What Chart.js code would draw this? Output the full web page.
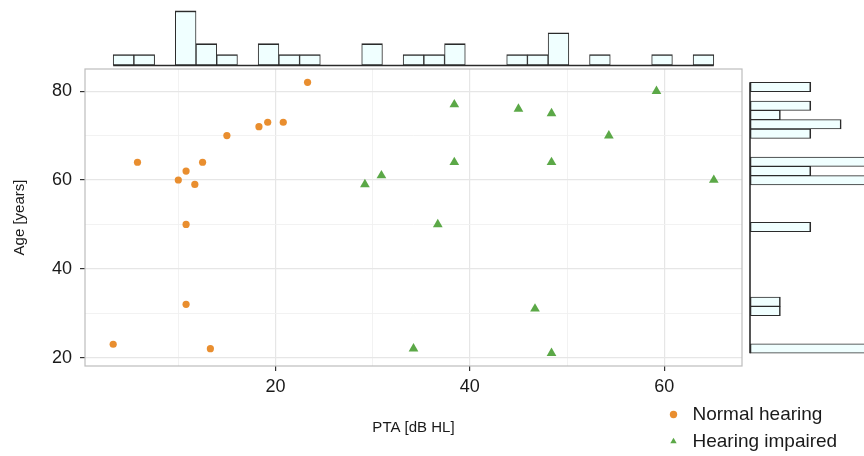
<!DOCTYPE html>
<html>
<head>
<meta charset="utf-8">
<script src="https://cdn.jsdelivr.net/npm/chart.js@4"></script>
<style>
  body { margin: 0; background: #fff; }
  #wrap { position: relative; width: 864px; height: 456px; overflow: hidden; }
  canvas { position: absolute; }
</style>
</head>
<body>
<div id="wrap">
  <canvas id="mainChart" width="864" height="456" style="left:0;top:0"></canvas>
  <canvas id="topHist" width="864" height="70" style="left:0;top:0"></canvas>
  <canvas id="rightHist" width="164" height="456" style="left:700px;top:0"></canvas>
  <canvas id="legendChart" width="208" height="70" style="left:656px;top:397px"></canvas>
</div>
<script>
// values
const normalPTA = [3.3, 5.8, 10.0, 10.8, 11.7, 12.5, 10.8, 10.8, 13.3, 15.0, 18.3, 19.2, 20.8, 23.3];
const normalAge = [23, 64, 60, 62, 59, 64, 50, 32, 22, 70, 72, 73, 73, 82];
const impairedPTA = [29.2, 30.9, 38.4, 38.4, 36.7, 34.2, 45.0, 48.4, 48.4, 46.7, 48.4, 54.3, 59.2, 65.1];
const impairedAge = [59, 61, 77, 64, 50, 22, 76, 75, 64, 31, 21, 70, 80, 60];

const groupLabels = ['Normal hearing', 'Hearing impaired'];
const ptaGrid = [10, 20, 30, 40, 50, 60];
const ageGrid = [20, 30, 40, 50, 60, 70, 80];
const labelEvery = 20;
const histBins = 29;

const ptaRange = [0.4, 68.0];
const ageRange = [18.1, 85.0];

const orange = '#E98E2F';
const green = '#5BA847';
const histFill = '#F0FFFF';
const histLine = '#2b2b2b';

Chart.defaults.font.family = "'Liberation Sans', Arial, sans-serif";
Chart.defaults.animation = false;

function toPoints(xs, ys) {
  return xs.map((x, i) => ({ x: x, y: ys[i] }));
}

function binCounts(values, n) {
  const lo = Math.min(...values), hi = Math.max(...values);
  const w = (hi - lo) / n;
  const counts = new Array(n).fill(0);
  values.forEach(v => counts[Math.min(n - 1, Math.floor((v - lo) / w))]++);
  return { lo: lo, hi: hi, bins: counts.map((c, i) => ({ center: lo + (i + 0.5) * w, count: c })) };
}

const isMajor = v => v % labelEvery === 0;

function gridAxis(range, values, extra) {
  return Object.assign({
    type: 'linear',
    min: range[0],
    max: range[1],
    afterBuildTicks: axis => { axis.ticks = values.map(v => ({ value: v })); },
    border: { display: false },
    grid: {
      color: c => isMajor(c.tick.value) ? '#e6e6e6' : '#f1f1f1',
      lineWidth: c => isMajor(c.tick.value) ? 1.2 : 0.9,
      tickColor: c => isMajor(c.tick.value) ? '#333' : 'rgba(0,0,0,0)',
      tickLength: 5
    }
  }, extra);
}

const panelBorder = {
  id: 'panelBorder',
  beforeDatasetsDraw(chart) {
    const a = chart.chartArea, ctx = chart.ctx;
    ctx.save();
    ctx.strokeStyle = '#bdbdbd';
    ctx.lineWidth = 1.2;
    ctx.strokeRect(a.left, a.top, a.right - a.left, a.bottom - a.top);
    ctx.restore();
  }
};

const scatterSets = [
  {
    label: groupLabels[0],
    data: toPoints(normalPTA, normalAge),
    pointStyle: 'circle',
    pointRadius: 3.6,
    backgroundColor: orange,
    borderColor: orange,
    borderWidth: 0
  },
  {
    label: groupLabels[1],
    data: toPoints(impairedPTA, impairedAge),
    pointStyle: 'triangle',
    pointRadius: 5.6,
    backgroundColor: green,
    borderColor: green,
    borderWidth: 0
  }
];

new Chart(document.getElementById('mainChart'), {
  type: 'scatter',
  data: { datasets: scatterSets },
  options: {
    responsive: false,
    layout: { padding: { left: 0, right: 122, top: 69, bottom: 0 } },
    plugins: { legend: { display: false }, tooltip: { enabled: false } },
    scales: {
      x: gridAxis(ptaRange, ptaGrid, {
        afterFit: axis => { axis.height = 90; },
        ticks: {
          autoSkip: false,
          maxRotation: 0,
          padding: 5,
          color: '#1a1a1a',
          font: { size: 18 },
          callback: v => isMajor(v) ? v : ''
        },
        title: {
          display: true,
          text: 'PTA [dB HL]',
          color: '#1a1a1a',
          font: { size: 15 },
          padding: { top: 0, bottom: 19 }
        }
      }),
      y: gridAxis(ageRange, ageGrid, {
        afterFit: axis => { axis.width = 85; },
        ticks: {
          autoSkip: false,
          padding: 8,
          color: '#1a1a1a',
          font: { size: 18 },
          callback: v => isMajor(v) ? v : ''
        },
        title: {
          display: true,
          text: 'Age [years]',
          color: '#1a1a1a',
          font: { size: 15 },
          padding: { top: 11, bottom: 0 }
        }
      })
    }
  },
  plugins: [panelBorder]
});

// marginal histogram of PTA (top)
const ptaHist = binCounts(normalPTA.concat(impairedPTA), histBins);
new Chart(document.getElementById('topHist'), {
  type: 'bar',
  data: {
    datasets: [
      {
        data: ptaHist.bins.map(b => ({ x: b.center, y: b.count })),
        backgroundColor: histFill,
        borderColor: histLine,
        borderWidth: { top: 1.6, bottom: 1.6, left: 1.0, right: 1.0 },
        borderSkipped: false,
        barPercentage: 1,
        categoryPercentage: 1
      },
      {
        type: 'line',
        data: [{ x: ptaHist.lo, y: 0 }, { x: ptaHist.hi, y: 0 }],
        borderColor: histLine,
        borderWidth: 1.6,
        pointRadius: 0,
        clip: false
      }
    ]
  },
  options: {
    responsive: false,
    layout: { padding: { left: 85, right: 122, top: 0, bottom: 4.5 } },
    plugins: { legend: { display: false }, tooltip: { enabled: false } },
    scales: {
      x: { type: 'linear', display: false, offset: false, min: ptaRange[0], max: ptaRange[1] },
      y: { type: 'linear', display: false, min: 0, max: 6.0 }
    }
  }
});

// marginal histogram of age (right)
const ageHist = binCounts(normalAge.concat(impairedAge), histBins);
new Chart(document.getElementById('rightHist'), {
  type: 'bar',
  data: {
    datasets: [
      {
        data: ageHist.bins.map(b => ({ x: b.count, y: b.center })),
        backgroundColor: histFill,
        borderColor: histLine,
        borderWidth: { top: 1.0, bottom: 1.0, left: 1.6, right: 1.6 },
        borderSkipped: false,
        barPercentage: 1,
        categoryPercentage: 1
      },
      {
        type: 'line',
        data: [{ x: 0, y: ageHist.lo }, { x: 0, y: ageHist.hi }],
        borderColor: histLine,
        borderWidth: 1.6,
        pointRadius: 0,
        clip: false
      }
    ]
  },
  options: {
    indexAxis: 'y',
    responsive: false,
    layout: { padding: { left: 50, right: 0, top: 69, bottom: 90 } },
    plugins: { legend: { display: false }, tooltip: { enabled: false } },
    scales: {
      x: { type: 'linear', display: false, min: 0, max: 3.75 },
      y: { type: 'linear', display: false, offset: false, min: ageRange[0], max: ageRange[1] }
    }
  }
});

// legend
new Chart(document.getElementById('legendChart'), {
  type: 'scatter',
  data: {
    datasets: scatterSets.map(s => Object.assign({}, s, { data: [] }))
  },
  options: {
    responsive: false,
    plugins: {
      tooltip: { enabled: false },
      legend: {
        position: 'left',
        align: 'start',
        maxWidth: 208,
        labels: {
          usePointStyle: true,
          boxWidth: 19,
          boxHeight: 5.2,
          padding: 8,
          color: '#1a1a1a',
          font: { size: 19 }
        }
      }
    },
    scales: { x: { display: false }, y: { display: false } }
  }
});
</script>
</body>
</html>
